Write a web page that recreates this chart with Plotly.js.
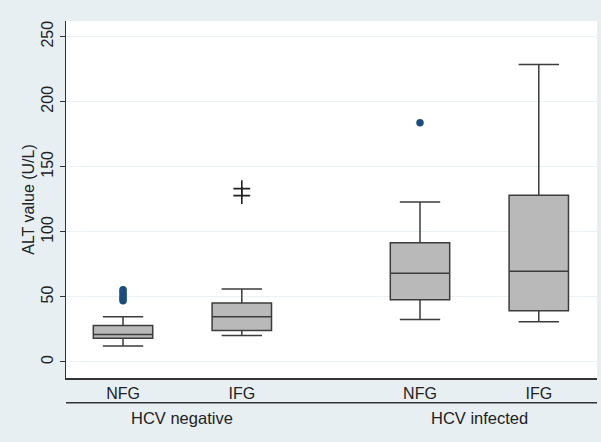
<!DOCTYPE html>
<html>
<head>
<meta charset="utf-8">
<script src="https://cdn.plot.ly/plotly-3.0.1.min.js"></script>
<style>html,body{margin:0;padding:0;background:#e8eff2;}#chart{width:601px;height:442px;}</style>
</head>
<body>
<div id="chart"></div>
<script>
// Data
const groups = ["HCV negative", "HCV negative", "HCV infected", "HCV infected"];
const categories = ["NFG", "IFG", "NFG", "IFG"];
const lowerWhisker = [12.2, 20.3, 32.6, 31.0];
const q1Values = [18.3, 24.2, 47.8, 39.4];
const medianValues = [21.1, 34.8, 68.2, 69.7];
const q3Values = [28.0, 45.3, 91.7, 128.1];
const upperWhisker = [34.8, 56.0, 123.0, 228.6];
const outliersNegNFG = [47, 48.5, 50, 52, 54, 55.5];
const outliersNegIFG = [127.8, 133.2];
const outliersInfNFG = [183.8];
const yTicks = [0, 50, 100, 150, 200, 250];

// positions: groups separated by an extra gap
const groupNames = [...new Set(groups)];
const positions = categories.map((c, i) => {
  const g = groupNames.indexOf(groups[i]);
  const within = groups.slice(0, i).filter(x => x === groups[i]).length;
  return 1 + g * 2.5 + within;
});

const boxTrace = {
  type: 'box',
  x: positions,
  q1: q1Values,
  median: medianValues,
  q3: q3Values,
  lowerfence: lowerWhisker,
  upperfence: upperWhisker,
  width: 0.5,
  whiskerwidth: 0.68,
  boxpoints: false,
  fillcolor: '#b9b9b9',
  line: {color: '#3c3c3c', width: 1.5},
  hoverinfo: 'skip',
  showlegend: false
};

const dotNeg = {
  type: 'scatter', mode: 'markers',
  x: outliersNegNFG.map(() => positions[0]), y: outliersNegNFG,
  marker: {color: '#1c4c7c', size: 7.5},
  showlegend: false
};
const dotInf = {
  type: 'scatter', mode: 'markers',
  x: outliersInfNFG.map(() => positions[2]), y: outliersInfNFG,
  marker: {color: '#1c4c7c', size: 7.5},
  showlegend: false
};
const crossNeg = {
  type: 'scatter', mode: 'markers',
  x: outliersNegIFG.map(() => positions[1]), y: outliersNegIFG,
  marker: {symbol: 'cross-thin-open', color: '#222', size: 12, line: {color: '#222', width: 1.6}},
  showlegend: false
};

const groupCenters = groupNames.map(g => {
  const p = positions.filter((_, i) => groups[i] === g);
  return (Math.min(...p) + Math.max(...p)) / 2;
});

const layout = {
  width: 601, height: 442,
  margin: {l: 66, r: 4, t: 21, b: 64},
  paper_bgcolor: '#e8eff2',
  plot_bgcolor: '#ffffff',
  font: {family: 'Liberation Sans, Arial, sans-serif', color: '#222'},
  xaxis: {
    range: [0.52, 4.99],
    tickvals: positions,
    ticktext: categories,
    ticks: '',
    showgrid: false,
    zeroline: false,
    showline: true, linecolor: '#333', linewidth: 1.5,
    tickfont: {size: 16, color: '#222'},
    fixedrange: true
  },
  yaxis: {
    range: [-12.3, 262],
    tickvals: yTicks,
    tickangle: -90,
    ticks: 'outside', ticklen: 5, tickcolor: '#333', tickwidth: 1,
    showgrid: true, gridcolor: '#e9f1f4', gridwidth: 1,
    zeroline: false,
    showline: true, linecolor: '#333', linewidth: 1.5,
    tickfont: {size: 16, color: '#222'},
    title: {text: 'ALT value (U/L)', font: {size: 16, color: '#222'}, standoff: 0},
    fixedrange: true
  },
  shapes: [{
    type: 'line', xref: 'paper', yref: 'paper',
    x0: 0, x1: 1, y0: -0.069, y1: -0.069,
    line: {color: '#333', width: 1.5}
  }],
  annotations: groupNames.map((g, i) => ({
    text: g, x: groupCenters[i], xref: 'x', y: -0.112, yref: 'paper',
    xanchor: 'center', yanchor: 'middle', showarrow: false,
    font: {size: 16.5, color: '#222'}
  }))
};

Plotly.newPlot('chart', [boxTrace, dotNeg, dotInf, crossNeg], layout, {displayModeBar: false, staticPlot: true});
</script>
</body>
</html>
